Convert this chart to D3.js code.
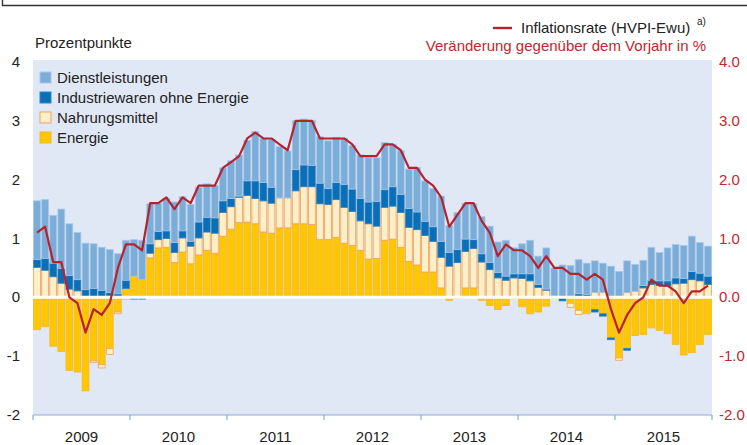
<!DOCTYPE html>
<html>
<head>
<meta charset="utf-8">
<title>Inflationsrate und Beiträge</title>
<script src="https://d3js.org/d3.v7.min.js"></script>
<style>
  body { margin: 0; background: #fff; }
  text { font-family: "Liberation Sans", Arial, sans-serif; }
</style>
</head>
<body>
<svg width="747" height="445"></svg>
<script>
// Beiträge in Prozentpunkten, monatlich Jan 2009 bis Dez 2015
const years = ["2009", "2010", "2011", "2012", "2013", "2014", "2015"];

const energie = [
  -0.55, -0.50, -0.83, -0.92, -1.24, -1.27, -1.59, -1.08, -1.14, -0.87, -0.25, 0.15,
  0.36, 0.30, 0.67, 0.84, 0.85, 0.59, 0.77, 0.57, 0.72, 0.80, 0.75, 1.04,
  1.16, 1.27, 1.28, 1.25, 1.11, 1.09, 1.18, 1.18, 1.25, 1.25, 1.24, 0.98,
  0.98, 1.02, 0.92, 0.88, 0.80, 0.65, 0.66, 0.97, 0.99, 0.85, 0.61, 0.55,
  0.43, 0.43, 0.16, -0.05, -0.02, 0.16, 0.16, -0.05, -0.14, -0.21, -0.14, -0.02,
  -0.16, -0.28, -0.25, -0.15, -0.02, 0.00, -0.10, -0.22, -0.28, -0.21, -0.28, -0.69,
  -1.03, -0.87, -0.65, -0.63, -0.52, -0.56, -0.62, -0.80, -0.98, -0.94, -0.80, -0.63
];
const nahrung = [
  0.51, 0.46, 0.35, 0.24, 0.14, 0.11, 0.00, -0.03, -0.06, -0.10, -0.03, -0.03,
  0.00, 0.00, 0.08, 0.14, 0.15, 0.17, 0.24, 0.30, 0.29, 0.31, 0.34, 0.40,
  0.38, 0.43, 0.45, 0.43, 0.53, 0.51, 0.51, 0.51, 0.56, 0.63, 0.64, 0.61,
  0.60, 0.64, 0.61, 0.58, 0.50, 0.60, 0.55, 0.56, 0.56, 0.59, 0.58, 0.60,
  0.62, 0.52, 0.52, 0.53, 0.59, 0.62, 0.67, 0.60, 0.47, 0.33, 0.29, 0.33,
  0.32, 0.28, 0.17, 0.12, 0.02, 0.00, -0.07, -0.07, 0.00, 0.08, 0.08, 0.00,
  -0.04, 0.08, 0.10, 0.16, 0.22, 0.20, 0.19, 0.23, 0.24, 0.30, 0.28, 0.22
];
const industrie = [
  0.13, 0.20, 0.23, 0.25, 0.23, 0.19, 0.13, 0.15, 0.12, 0.08, 0.06, 0.14,
  -0.03, -0.03, 0.16, 0.14, 0.13, 0.17, 0.12, 0.08, 0.27, 0.25, 0.26, 0.20,
  0.14, 0.02, 0.25, 0.30, 0.31, 0.27, 0.00, 0.00, 0.36, 0.37, 0.36, 0.35,
  0.27, 0.29, 0.39, 0.38, 0.38, 0.37, 0.42, 0.30, 0.33, 0.31, 0.32, 0.30,
  0.24, 0.25, 0.27, 0.23, 0.22, 0.21, 0.15, 0.14, 0.12, 0.09, 0.07, 0.07,
  0.08, 0.12, 0.05, 0.02, 0.00, -0.06, 0.00, 0.06, 0.05, -0.04, -0.04, -0.03,
  0.00, -0.03, 0.00, 0.04, 0.07, 0.08, 0.09, 0.10, 0.08, 0.14, 0.13, 0.14
];
const dienst = [
  1.00, 1.00, 0.81, 1.01, 0.88, 0.80, 0.79, 0.76, 0.73, 0.73, 0.68, 0.68,
  0.62, 0.67, 0.68, 0.48, 0.55, 0.69, 0.58, 0.63, 0.59, 0.57, 0.55, 0.56,
  0.64, 0.70, 0.69, 0.84, 0.75, 0.81, 0.87, 0.80, 0.83, 0.78, 0.77, 0.79,
  0.81, 0.77, 0.78, 0.74, 0.74, 0.75, 0.74, 0.80, 0.72, 0.74, 0.67, 0.76,
  0.69, 0.65, 0.77, 0.46, 0.63, 0.61, 0.61, 0.63, 0.62, 0.52, 0.61, 0.44,
  0.51, 0.57, 0.48, 0.70, 0.48, 0.55, 0.54, 0.58, 0.53, 0.54, 0.50, 0.53,
  0.44, 0.54, 0.46, 0.43, 0.56, 0.48, 0.56, 0.57, 0.56, 0.60, 0.52, 0.51
];
// Inflationsrate (HVPI-Ewu), Veränderung gegenüber Vorjahr in %
const inflation = [
  1.1, 1.2, 0.6, 0.6, 0.0, -0.1, -0.6, -0.2, -0.3, -0.1, 0.5, 0.9,
  0.9, 0.8, 1.6, 1.6, 1.7, 1.5, 1.7, 1.6, 1.9, 1.9, 1.9, 2.2,
  2.3, 2.4, 2.7, 2.8, 2.7, 2.7, 2.6, 2.5, 3.0, 3.0, 3.0, 2.7,
  2.7, 2.7, 2.7, 2.6, 2.4, 2.4, 2.4, 2.6, 2.6, 2.5, 2.2, 2.2,
  2.0, 1.9, 1.7, 1.2, 1.4, 1.6, 1.6, 1.3, 1.1, 0.7, 0.9, 0.8,
  0.8, 0.7, 0.5, 0.7, 0.5, 0.5, 0.4, 0.4, 0.3, 0.4, 0.3, -0.2,
  -0.6, -0.3, -0.1, 0.0, 0.3, 0.2, 0.2, 0.1, -0.1, 0.1, 0.1, 0.2
];
const leftTicks = [-2, -1, 0, 1, 2, 3, 4];
const rightTicks = [-2, -1, 0, 1, 2, 3, 4];

const series = [
  {key: "Energie", values: energie, fill: "#ffc700", stroke: "#f6b52a"},
  {key: "Nahrungsmittel", values: nahrung, fill: "#fdf0c6", stroke: "#f0a060"},
  {key: "Industriewaren ohne Energie", values: industrie, fill: "#0a6fb6", stroke: "#2f85c4"},
  {key: "Dienstleistungen", values: dienst, fill: "#7cacd8", stroke: "#a6c8e9"}
];

const months = [];
years.forEach(yr => { for (let m = 1; m <= 12; m++) months.push(yr + "-" + m); });

const svg = d3.select("svg");
const plotL = 33, plotR = 712, plotT = 62, plotB = 415;
const fs = 15;

const x = d3.scaleBand().domain(months).range([plotL, plotR]).paddingInner(0.16).paddingOuter(0.08);
const xYear = d3.scaleBand().domain(years).range([plotL, plotR]);
const y = d3.scaleLinear().domain([-2, 4]).range([plotB, plotT]);

// top frame remnant
svg.append("path").attr("d", "M2.5,0 V5.5 H747").attr("fill", "none")
  .attr("stroke", "#333").attr("stroke-width", 1.4);

// plot background
svg.append("rect").attr("x", plotL).attr("y", plotT - 2).attr("width", plotR - plotL)
  .attr("height", plotB - plotT + 2).attr("fill", "#e0e8f5");

// stacked bars
const segs = [];
months.forEach((m, i) => {
  let pos = 0, neg = 0;
  series.forEach(s => {
    const v = s.values[i];
    if (v >= 0) { segs.push({m, s, y0: pos, y1: pos + v}); pos += v; }
    else { segs.push({m, s, y0: neg + v, y1: neg}); neg += v; }
  });
});

svg.append("g").selectAll("rect").data(segs.filter(d => d.y1 - d.y0 > 0)).join("rect")
  .attr("x", d => x(d.m))
  .attr("width", x.bandwidth())
  .attr("y", d => y(d.y1))
  .attr("height", d => Math.max(0.5, y(d.y0) - y(d.y1)))
  .attr("fill", d => d.s.fill)
  .attr("stroke", d => d.s.stroke)
  .attr("stroke-width", 0.8);

// zero line
svg.append("line").attr("x1", plotL).attr("x2", plotR).attr("y1", y(0)).attr("y2", y(0))
  .attr("stroke", "#fff").attr("stroke-width", 3);

// inflation line
const line = d3.line().x((d, i) => x(months[i]) + x.bandwidth() / 2).y(d => y(d));
svg.append("path").datum(inflation).attr("d", line)
  .attr("fill", "none").attr("stroke", "#b6232f").attr("stroke-width", 2.2)
  .attr("stroke-linejoin", "round");

// bottom axis
const ax = svg.append("g");
ax.append("line").attr("x1", plotL).attr("x2", plotR).attr("y1", plotB).attr("y2", plotB)
  .attr("stroke", "#8fa9d8").attr("stroke-width", 1.2);
ax.selectAll(".tk").data(years.concat(["end"])).join("line")
  .attr("x1", (d, i) => plotL + i * xYear.bandwidth())
  .attr("x2", (d, i) => plotL + i * xYear.bandwidth())
  .attr("y1", plotB).attr("y2", plotB + 5)
  .attr("stroke", "#8fa9d8").attr("stroke-width", 1.2);
ax.selectAll("text").data(years).join("text")
  .attr("x", d => xYear(d) + xYear.bandwidth() / 2).attr("y", 442)
  .attr("text-anchor", "middle").attr("font-size", fs).attr("fill", "#222").text(d => d);

// left axis labels
svg.append("g").selectAll("text").data(leftTicks).join("text")
  .attr("x", 20).attr("y", d => y(d) + 5).attr("text-anchor", "end")
  .attr("font-size", fs).attr("fill", "#222").text(d => d);

// right axis labels
svg.append("g").selectAll("text").data(rightTicks).join("text")
  .attr("x", 719).attr("y", d => y(d) + 5).attr("text-anchor", "start")
  .attr("font-size", fs).attr("fill", "#c4262e").text(d => d.toFixed(1));

// titles
svg.append("text").attr("x", 35).attr("y", 48).attr("font-size", fs).attr("fill", "#222")
  .text("Prozentpunkte");
svg.append("line").attr("x1", 493).attr("x2", 512).attr("y1", 28).attr("y2", 28)
  .attr("stroke", "#b6232f").attr("stroke-width", 2.4);
svg.append("text").attr("x", 521).attr("y", 33).attr("font-size", fs).attr("fill", "#222")
  .text("Inflationsrate (HVPI-Ewu)");
svg.append("text").attr("x", 697).attr("y", 25).attr("font-size", 10).attr("fill", "#222")
  .text("a)");
svg.append("text").attr("x", 706).attr("y", 51).attr("text-anchor", "end")
  .attr("font-size", fs).attr("fill", "#c4262e").text("Veränderung gegenüber dem Vorjahr in %");

// legend
const legendOrder = [series[3], series[2], series[1], series[0]];
const lg = svg.append("g").selectAll("g").data(legendOrder).join("g")
  .attr("transform", (d, i) => `translate(40,${72 + i * 20})`);
lg.append("rect").attr("width", 11).attr("height", 11)
  .attr("fill", d => d.fill).attr("stroke", d => d.stroke).attr("stroke-width", 1);
lg.append("text").attr("x", 17).attr("y", 11).attr("font-size", fs).attr("fill", "#222")
  .text(d => d.key);
</script>
</body>
</html>
